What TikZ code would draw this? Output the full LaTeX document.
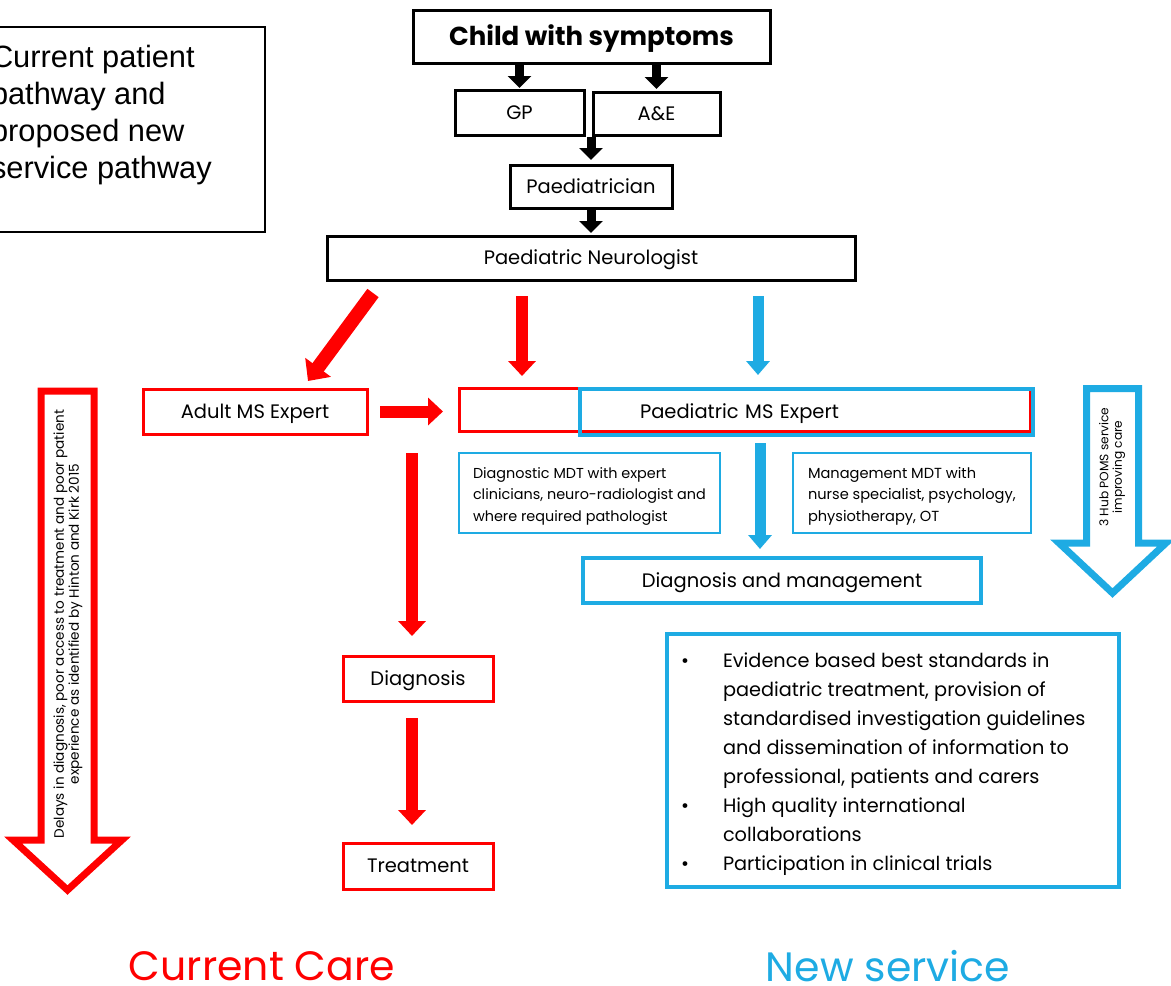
\documentclass[tikz,border=0pt]{standalone}
\usepackage{fontspec}
\setmainfont{Poppins}
\newfontfamily\arialf{Liberation Sans}
\usetikzlibrary{arrows.meta}
\definecolor{msred}{RGB}{255,0,0}
\definecolor{msblue}{RGB}{30,171,227}
\newcommand{\fs}[2]{\fontsize{#1}{#2}\selectfont}
\begin{document}
\begin{tikzpicture}[x=1pt,y=-1pt,
  box/.style={draw, rectangle, inner sep=0pt, outer sep=0pt, font=\fs{19.5}{24}, text height=13.6pt, text depth=0pt},
  blkbox/.style={box, draw=black, line width=3pt},
  redbox/.style={box, draw=msred, line width=3pt},
  bluebox/.style={box, draw=msblue, line width=4pt},
  thinblue/.style={box, draw=msblue, line width=1.3pt},
  barrow/.style={draw=black, line width=9pt, -{Triangle[width=23pt,length=12pt]}},
  rarrow/.style={draw=msred, line width=12pt, -{Triangle[width=27pt,length=15pt]}},
  blarrow/.style={draw=msblue, line width=11pt, -{Triangle[width=23pt,length=14pt]}},
  hollow/.style={line width=7pt, line join=miter, fill=white},
  txt/.style={inner sep=0pt, outer sep=0pt},
]
\useasboundingbox (0,0) rectangle (1171,986);

% intro box
\node[box, draw=black, line width=1.8pt, minimum width=275pt, minimum height=205pt] (intro) at (127.5,129.5) {};
\node[txt, anchor=base west, font=\arialf\fs{30.8}{37}] (introtxt) at (-9,67)
  {\begin{tabular}[t]{@{}l@{}}Current patient\\pathway and\\proposed new\\service pathway\end{tabular}};

% top black pathway
\node[blkbox, minimum width=357pt, minimum height=53pt, font=\bfseries\fs{26}{30}, text height=18.5pt] (child) at (591.5,36.5) {Child with symptoms};
\node[blkbox, minimum width=129pt, minimum height=45pt] (gp) at (519.5,112.5) {GP};
\node[blkbox, minimum width=127pt, minimum height=43pt] (ae) at (656.5,113.5) {A\&E};
\node[blkbox, minimum width=162pt, minimum height=43pt] (pae) at (591,186.5) {Paediatrician};
\node[blkbox, minimum width=528pt, minimum height=44pt] (neuro) at (591,258) {Paediatric Neurologist};

\draw[barrow, shorten >=2pt] (gp.north |- child.south) -- (gp.north);
\draw[barrow, shorten >=3pt] (ae.north |- child.south) -- (ae.north);
\draw[barrow, shorten <=2pt, shorten >=5pt] (pae.north |- gp.south) -- (pae.north);
\draw[barrow, shorten <=2pt, shorten >=3pt] (pae.south) -- (pae.south |- neuro.north);

% middle boxes
\node[redbox, minimum width=224pt, minimum height=45pt] (adult) at (255,411.5) {Adult MS Expert};
\node[redbox, minimum width=571pt, minimum height=43pt] (redms) at (744.5,409.5) {};
\node[bluebox, minimum width=453pt, minimum height=46pt, text width=453pt, align=left] (pms) at (806.5,412) {\hspace*{60pt}Paediatric MS Expert};

\node[thinblue, minimum width=261pt, minimum height=80pt] (dmdt) at (589.5,493) {};
\node[txt, anchor=base west, font=\fs{14.4}{21.5}] (dmdttxt) at (473,478)
  {\begin{tabular}[t]{@{}l@{}}Diagnostic MDT with expert\\clinicians, neuro-radiologist and\\where required pathologist\end{tabular}};
\node[thinblue, minimum width=238pt, minimum height=80pt] (mmdt) at (912,493) {};
\node[txt, anchor=base west, font=\fs{14.6}{21.5}] (mmdttxt) at (808,478)
  {\begin{tabular}[t]{@{}l@{}}Management MDT with\\nurse specialist, psychology,\\physiotherapy, OT\end{tabular}};

\node[bluebox, minimum width=398pt, minimum height=45pt] (dm) at (782,580.5) {Diagnosis and management};
\node[redbox, minimum width=150pt, minimum height=45pt] (diag) at (418,678.5) {Diagnosis};
\node[redbox, minimum width=150pt, minimum height=46pt] (treat) at (418,866) {Treatment};

\node[bluebox, minimum width=452pt, minimum height=253pt] (bul) at (893,760.5) {};
\node[txt, anchor=base west, font=\fs{19.3}{29}] (bultxt) at (681,667)
  {\begin{tabular}[t]{@{}p{42pt}@{}l@{}}
  \textbullet & Evidence based best standards in\\
   & paediatric treatment, provision of\\
   & standardised investigation guidelines\\
   & and dissemination of information to\\
   & professional, patients and carers\\
  \textbullet & High quality international\\
   & collaborations\\
  \textbullet & Participation in clinical trials
  \end{tabular}};

% arrow end points
\coordinate (a1s) at (373,293); \coordinate (a1e) at (308,381);
\coordinate (a2s) at (522,296); \coordinate (a2e) at (522,376);
\coordinate (a3s) at (758,296); \coordinate (a3e) at (758,375);
\coordinate (a5s) at (760,443); \coordinate (a5e) at (760,549);
\coordinate (a6s) at (412,453); \coordinate (a6e) at (412,636);
\coordinate (a7s) at (412,718); \coordinate (a7e) at (412,825);

\draw[rarrow, line width=14pt, -{Triangle[width=31pt,length=17pt]}] (a1s) -- (a1e);
\draw[rarrow] (a2s) -- (a2e);
\draw[blarrow] (a3s) -- (a3e);
\draw[rarrow, shorten <=13pt, shorten >=16pt] (adult.east) -- (adult.east -| redms.west);
\draw[blarrow] (a5s) -- (a5e);
\draw[rarrow] (a6s) -- (a6e);
\draw[rarrow] (a7s) -- (a7e);

% hollow arrows
\draw[hollow, draw=msred] (41,391) -- (94,391) -- (94,840) -- (122,840) -- (67.5,890) -- (13,840) -- (41,840) -- cycle;
\node[txt, rotate=90, align=center, font=\fs{13.6}{13.8}] (delays) at (68,624)
  {Delays in diagnosis, poor access to treatment and poor patient\\experience as identified by Hinton and Kirk 2015};
\draw[hollow, draw=msblue] (1086.5,388.5) -- (1138.5,388.5) -- (1138.5,543) -- (1166,543) -- (1112.5,593) -- (1059,543) -- (1086.5,543) -- cycle;
\node[txt, rotate=90, align=center, font=\fs{12.2}{13.5}] (hub) at (1112,467)
  {3 Hub POMS service\\improving care};

% titles
\node[txt, text=msred, font=\fs{41}{45}] (cur) at (262,966) {Current Care};
\node[txt, text=msblue, font=\fs{41}{45}] (new) at (888,966) {New service};
\end{tikzpicture}
\end{document}
